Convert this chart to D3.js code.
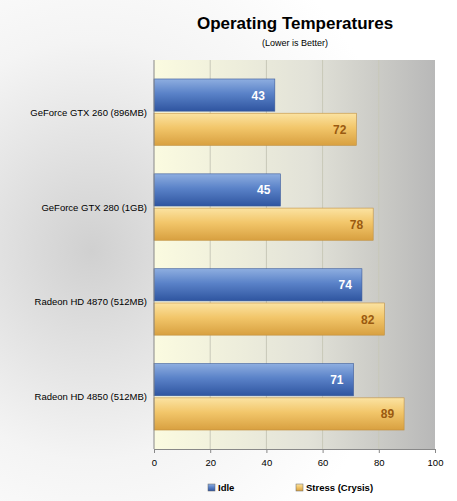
<!DOCTYPE html><html><head><meta charset="utf-8"><script src="https://cdn.jsdelivr.net/npm/d3@7"></script>
<style>body{margin:0;background:#fff}svg{display:block;font-family:"Liberation Sans",Arial,sans-serif}</style></head><body><svg id="c" width="457" height="501"></svg>
<script>
const categories=["GeForce GTX 260 (896MB)","GeForce GTX 280 (1GB)","Radeon HD 4870 (512MB)","Radeon HD 4850 (512MB)"];
const idle=[43,45,74,71];
const stress=[72,78,82,89];
const ticks=[0,20,40,60,80,100];
const series=["Idle","Stress (Crysis)"];
const svg=d3.select("#c");
const defs=svg.append("defs");
const rg=defs.append("radialGradient").attr("id","bgR").attr("cx","0.2").attr("cy","0.5").attr("r","0.7");
rg.append("stop").attr("offset","0").attr("stop-color","#d0d0d0");
rg.append("stop").attr("offset","0.6").attr("stop-color","#f4f4f4");
rg.append("stop").attr("offset","1").attr("stop-color","#ffffff");
svg.append("rect").attr("width",457).attr("height",501).attr("fill","url(#bgR)");
const pg=defs.append("linearGradient").attr("id","plotG");
pg.append("stop").attr("offset","0").attr("stop-color","#fbfbe0");
pg.append("stop").attr("offset","0.55").attr("stop-color","#e2e2d8");
pg.append("stop").attr("offset","1").attr("stop-color","#b8b8b8");
function vg(id,c1,c2,c3){const g=defs.append("linearGradient").attr("id",id).attr("x1",0).attr("y1",0).attr("x2",0).attr("y2",1);
g.append("stop").attr("offset","0").attr("stop-color",c1);g.append("stop").attr("offset","0.45").attr("stop-color",c2);g.append("stop").attr("offset","1").attr("stop-color",c3);}
vg("blueG","#8eaee0","#5a82c8","#2f55a0");
vg("yelG","#fbe3a2","#f2c66a","#d8a040");
const x=d3.scaleLinear().domain([0,100]).range([154,435]);
const pTop=60,pBot=449;
svg.append("rect").attr("x",154).attr("y",pTop).attr("width",281).attr("height",pBot-pTop).attr("fill","url(#plotG)");
svg.append("g").selectAll("line").data(ticks.slice(1,-1)).join("line").attr("x1",d=>x(d)).attr("x2",d=>x(d)).attr("y1",pTop).attr("y2",pBot).attr("stroke","#c8c8b8").attr("stroke-width",1);
const y0=d3.scaleBand().domain(categories).range([pTop,pBot]).paddingInner(0.3).paddingOuter(0.2);
const y1=d3.scaleBand().domain(series).range([0,y0.bandwidth()]).paddingInner(0.06);
const g=svg.append("g");
categories.forEach((c,i)=>{
 [[idle[i],"Idle","url(#blueG)","#fff"],[stress[i],"Stress (Crysis)","url(#yelG)","#9a5a10"]].forEach(([v,s,f,tc])=>{
  const yy=y0(c)+y1(s);
  g.append("rect").attr("x",x(0)).attr("y",yy).attr("width",x(v)-x(0)).attr("height",y1.bandwidth()).attr("fill",f).attr("stroke",s=="Idle"?"#3a5a9a":"#c09040").attr("stroke-width",0.6);
  g.append("text").attr("x",x(v)-10).attr("y",yy+y1.bandwidth()/2+4.5).attr("text-anchor","end").attr("font-size",12).attr("font-weight","bold").attr("fill",tc).text(v);
 });
 svg.append("text").attr("x",147).attr("y",y0(c)+y0.bandwidth()/2+3.5).attr("text-anchor","end").attr("font-size",9.5).attr("fill","#000").text(c);
});
svg.append("line").attr("x1",154).attr("x2",154).attr("y1",pTop).attr("y2",pBot).attr("stroke","#888");
const ax=svg.append("g").attr("transform",`translate(0,${pBot})`).call(d3.axisBottom(x).tickValues(ticks).tickSize(4).tickSizeOuter(0));
ax.select(".domain").attr("stroke","#888");ax.selectAll(".tick line").attr("stroke","#888");
ax.selectAll("text").attr("font-size",9.5).attr("fill","#000").attr("dy","1.1em").attr("font-family","Liberation Sans, Arial");
svg.append("text").attr("x",295).attr("y",29).attr("text-anchor","middle").attr("font-size",17).attr("font-weight","bold").text("Operating Temperatures");
svg.append("text").attr("x",295).attr("y",46).attr("text-anchor","middle").attr("font-size",9).text("(Lower is Better)");
const lg=[[213,"url(#blueG)","Idle"],[301,"url(#yelG)","Stress (Crysis)"]];
lg.forEach(([lx,f,t])=>{svg.append("rect").attr("x",lx-5).attr("y",484).attr("width",7).attr("height",7).attr("fill",f).attr("stroke","#666").attr("stroke-width",0.5);
svg.append("text").attr("x",lx+5).attr("y",491).attr("font-size",9.5).attr("font-weight","bold").text(t);});
</script></body></html>
